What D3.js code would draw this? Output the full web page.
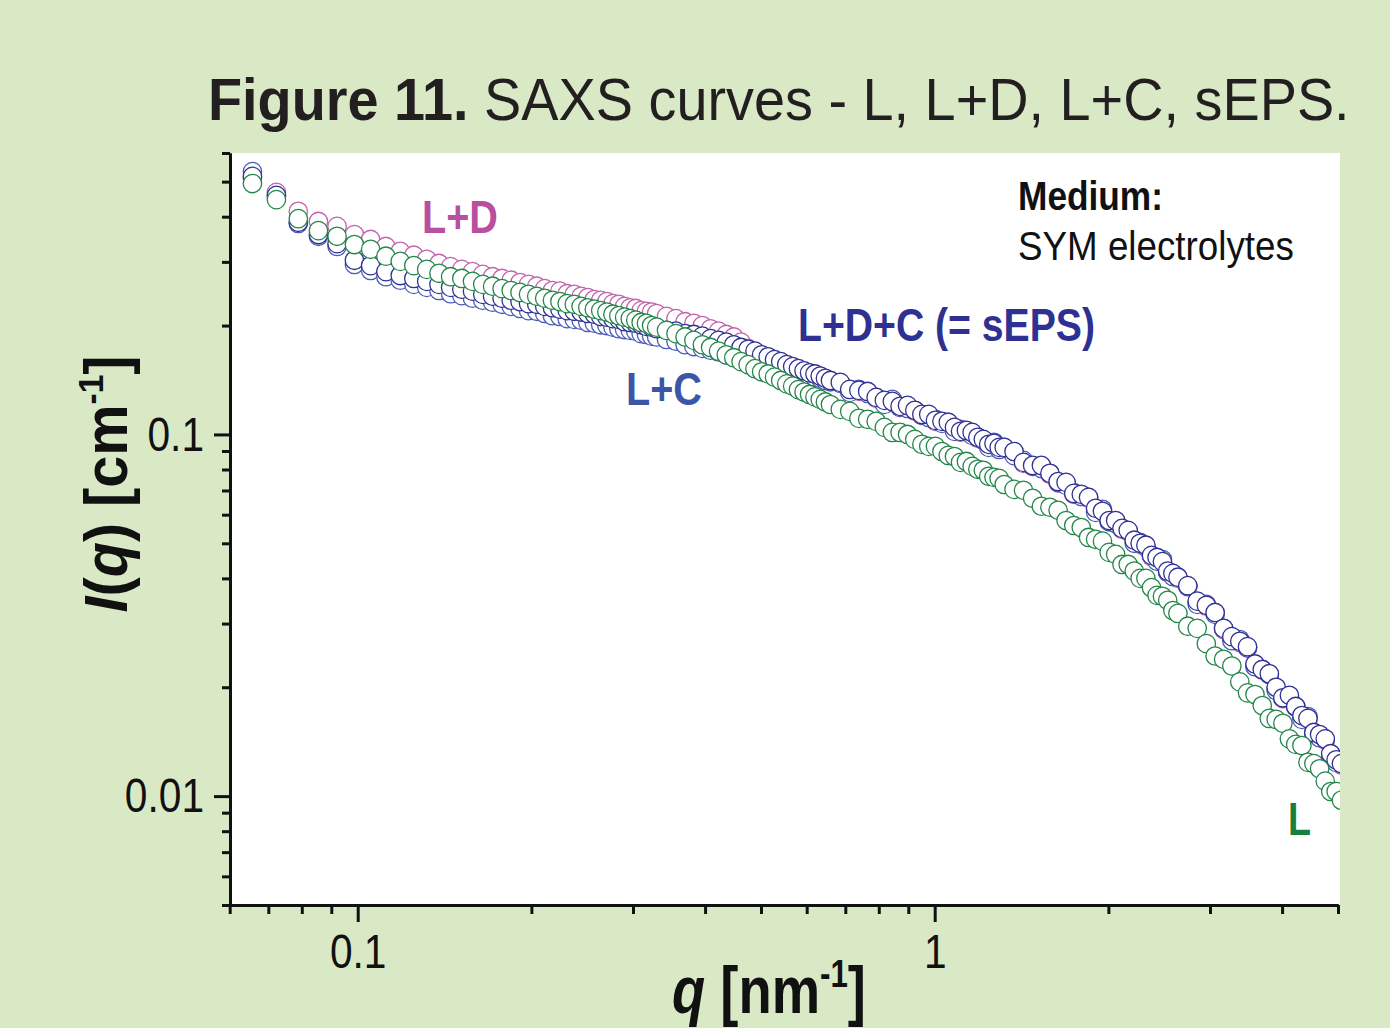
<!DOCTYPE html>
<html>
<head>
<meta charset="utf-8">
<script src="https://cdn.jsdelivr.net/npm/d3@7"></script>
<style>
  html, body { margin: 0; padding: 0; background: #d9e9c6; }
  svg { display: block; }
  text { font-family: "Liberation Sans", Arial, Helvetica, sans-serif; }
</style>
</head>
<body>
<svg id="chart" width="1390" height="1028"></svg>
<script>
//********************************************************************//
//                    DATA
//*******************************************************************//

// scattering vector q [nm^-1], shared by all four curves
var qValues = [0.0657,0.0723,0.0789,0.0855,0.0921,0.0987,0.1053,0.1119,0.1185,0.1251,
               0.1317,0.1383,0.1449,0.1515,0.1581,0.1647,0.1713,0.1779,0.1845,0.1911,
               0.1977,0.2043,0.2109,0.2175,0.2241,0.2307,0.2373,0.2439,0.2505,0.2571,
               0.2637,0.2703,0.2769,0.2835,0.2901,0.2967,0.3033,0.3099,0.3165,0.3231,
               0.3297,
               0.3429,0.3561,0.3693,0.3825,0.3957,0.4089,0.4221,0.4353,0.4485,0.4617,
               0.4749,0.4881,0.5013,0.5145,0.5277,0.5409,0.5541,0.5673,0.5805,0.5937,
               0.6069,0.6201,0.6333,0.6465,0.6597,
               0.6861,0.7125,0.7389,0.7653,0.7917,0.8181,0.8445,0.8709,0.8973,0.9237,
               0.9501,0.9765,1.0029,1.0293,1.0557,1.0821,1.1085,1.1349,1.1613,1.1877,
               1.2141,1.2405,1.2669,1.2933,1.3197,
               1.3725,1.4253,1.4781,1.5309,1.5837,1.6365,1.6893,1.7421,1.7949,1.8477,
               1.9005,1.9533,2.0061,2.0589,2.1117,2.1645,2.2173,2.2701,2.3229,2.3757,
               2.4285,2.4813,2.5341,2.5869,2.6397,
               2.7453,2.8509,2.9565,3.0621,3.1677,3.2733,3.3789,3.4845,3.5901,3.6957,
               3.8013,3.9069,4.0125,4.1181,4.2237,4.3293,4.4349,4.5405,4.6461,4.7517,
               4.8573,4.9629,5.0685];

// I(q) [cm^-1] : L
var iL = [0.494,0.446,0.395,0.366,0.353,0.335,0.325,0.311,0.301,0.293,
          0.286,0.279,0.273,0.270,0.265,0.260,0.257,0.253,0.250,0.247,
          0.244,0.241,0.238,0.235,0.233,0.230,0.229,0.226,0.224,0.222,
          0.220,0.218,0.215,0.213,0.211,0.209,0.207,0.204,0.203,0.200,
          0.198,
          0.194,0.190,0.186,0.182,0.177,0.174,0.170,0.166,0.163,0.159,
          0.156,0.152,0.149,0.147,0.144,0.141,0.138,0.136,0.133,0.131,
          0.129,0.127,0.125,0.123,0.121,
          0.1173,0.1158,0.1108,0.1101,0.1087,0.1046,0.1013,0.1013,0.1000,0.0969,
          0.0939,0.0927,0.0927,0.0897,0.0875,0.0869,0.0837,0.0842,0.0816,0.0801,
          0.0796,0.0766,0.0761,0.0756,0.0727,
          0.0705,0.0701,0.0666,0.0633,0.0629,0.0617,0.0578,0.0560,0.0553,0.0519,
          0.0513,0.0507,0.0472,0.0466,0.0437,0.0437,0.0419,0.0400,0.0400,0.0377,
          0.0359,0.0357,0.0348,0.0326,0.0320,
          0.0295,0.0291,0.0264,0.0244,0.0239,0.0229,0.0207,0.0193,0.0191,0.0178,
          0.0164,0.0163,0.0159,0.0144,0.0139,0.0138,0.0124,0.0123,0.0119,0.0110,
          0.0103,0.0103,0.00974];

// I(q) : L+D
var iLD = [0.510,0.467,0.414,0.388,0.376,0.357,0.346,0.331,0.321,0.313,
           0.305,0.297,0.291,0.286,0.282,0.277,0.273,0.270,0.267,0.263,
           0.260,0.257,0.253,0.250,0.249,0.245,0.244,0.241,0.239,0.236,
           0.235,0.233,0.230,0.229,0.226,0.224,0.223,0.220,0.219,0.218,
           0.216,
           0.212,0.209,0.205,0.203,0.200,0.196,0.193,0.189,0.186,0.180,
           0.173,0.169,0.165,0.163,0.160,0.158,0.155,0.153,0.151,0.149,
           0.1475,0.146,0.144,0.142,0.140,
           0.1384,0.1324,0.1316,0.1307,0.1258,0.1234,0.1226,0.1188,0.1195,0.1159,
           0.1129,0.1129,0.1087,0.1080,0.1073,0.1039,0.1014,0.1019,0.1007,0.0976,
           0.0963,0.0933,0.0939,0.0915,0.0915,
           0.0891,0.0832,0.0816,0.0816,0.0776,0.0736,0.0732,0.0683,0.0679,0.0666,
           0.0621,0.0609,0.0574,0.0574,0.0547,0.0540,0.0507,0.0497,0.0491,0.0460,
           0.0454,0.0442,0.0416,0.0410,0.0400,
           0.0380,0.0344,0.0335,0.0320,0.0289,0.0274,0.0266,0.0257,0.0231,0.0223,
           0.0217,0.0199,0.0186,0.0189,0.0176,0.0166,0.0163,0.0149,0.0147,0.0143,
           0.0130,0.0125,0.0122];

// I(q) : L+C
var iLC = [0.533,0.455,0.383,0.353,0.331,0.295,0.284,0.273,0.267,0.260,
           0.255,0.250,0.245,0.242,0.238,0.235,0.232,0.229,0.226,0.223,
           0.220,0.219,0.216,0.213,0.212,0.209,0.208,0.207,0.204,0.203,
           0.201,0.200,0.198,0.196,0.195,0.194,0.193,0.190,0.189,0.187,
           0.186,
           0.183,0.181,0.177,0.175,0.173,0.171,0.169,0.166,0.164,0.162,
           0.160,0.158,0.156,0.154,0.153,0.151,0.149,0.148,0.147,0.146,
           0.145,0.144,0.143,0.141,0.140,
           0.1384,0.1307,0.1332,0.1298,0.1266,0.1211,0.1250,0.1188,0.1180,0.1166,
           0.1129,0.1114,0.1101,0.1073,0.1080,0.1020,0.1033,0.1019,0.0994,0.0982,
           0.0963,0.0921,0.0951,0.0909,0.0921,
           0.0874,0.0848,0.0816,0.0805,0.0781,0.0736,0.0723,0.0691,0.0674,0.0670,
           0.0609,0.0621,0.0574,0.0567,0.0550,0.0540,0.0500,0.0503,0.0488,0.0463,
           0.0446,0.0451,0.0416,0.0405,0.0403,
           0.0380,0.0339,0.0339,0.0318,0.0291,0.0269,0.0271,0.0257,0.0228,0.0224,
           0.0217,0.0196,0.0188,0.0188,0.0177,0.0163,0.0166,0.0149,0.0145,0.0144,
           0.0130,0.0124,0.0124];

// I(q) : L+D+C (= sEPS)
var iLDC = [0.517,0.458,0.386,0.357,0.337,0.303,0.293,0.282,0.275,0.270,
            0.265,0.260,0.255,0.252,0.249,0.244,0.241,0.238,0.235,0.233,
            0.230,0.229,0.226,0.224,0.222,0.220,0.219,0.218,0.216,0.215,
            0.212,0.211,0.209,0.208,0.205,0.204,0.203,0.201,0.199,0.198,
            0.196,
            0.194,0.193,0.190,0.189,0.187,0.184,0.182,0.180,0.177,0.174,
            0.172,0.170,0.166,0.164,0.161,0.159,0.156,0.154,0.152,0.150,
            0.148,0.147,0.145,0.143,0.141,
            0.1393,0.1332,0.1324,0.1315,0.1266,0.1242,0.1234,0.1196,0.1203,0.1166,
            0.1136,0.1136,0.1094,0.1087,0.1080,0.1046,0.1020,0.1026,0.1013,0.0982,
            0.0969,0.0939,0.0945,0.0921,0.0921,
            0.0897,0.0837,0.0821,0.0821,0.0781,0.0741,0.0737,0.0687,0.0683,0.0670,
            0.0625,0.0613,0.0578,0.0578,0.0550,0.0543,0.0510,0.0500,0.0494,0.0463,
            0.0457,0.0445,0.0419,0.0413,0.0403,
            0.0382,0.0346,0.0337,0.0322,0.0291,0.0276,0.0268,0.0259,0.0232,0.0224,
            0.0218,0.0200,0.0187,0.0190,0.0177,0.0167,0.0164,0.0150,0.0148,0.0144,
            0.0131,0.0126,0.0123];

// axis ticks
var xMajorTicks = [0.1, 1];
var xMajorLabels = ["0.1", "1"];
var xMinorTicks = [0.06, 0.07, 0.08, 0.09, 0.2, 0.3, 0.4, 0.5, 0.6, 0.7, 0.8, 0.9, 2, 3, 4, 5];
var yMajorTicks = [0.01, 0.1];
var yMajorLabels = ["0.01", "0.1"];
var yMinorTicks = [0.005, 0.006, 0.007, 0.008, 0.009, 0.02, 0.03, 0.04, 0.05, 0.06, 0.07, 0.08, 0.09,
                   0.2, 0.3, 0.4, 0.5, 0.6];

//********************************************************************//
//                    DRAWING
//*******************************************************************//

var svg = d3.select("#chart");

var plot = {left: 230, right: 1340, top: 153, bottom: 905};

var x = d3.scaleLog().domain([0.06, 5]).range([229.7, 1338]);
var y = d3.scaleLog().domain([0.005, 0.6]).range([905, 153]);

// squeeze a text horizontally so that it spans `width` px (the original uses a condensed face)
function fitText(t, px, py, width, rotate) {
  var w = t.node().getComputedTextLength();
  t.attr("transform", "translate(" + px + "," + py + ")" + (rotate ? " rotate(-90)" : "") +
         " scale(" + (width / w) + ",1)");
}

// white plot area
svg.append("rect")
   .attr("x", plot.left)
   .attr("y", plot.top)
   .attr("width", plot.right - plot.left)
   .attr("height", plot.bottom - plot.top)
   .attr("fill", "#ffffff");

svg.append("clipPath").attr("id", "plotClip")
   .append("rect")
   .attr("x", plot.left)
   .attr("y", plot.top)
   .attr("width", plot.right - plot.left)
   .attr("height", plot.bottom - plot.top);

// curves, drawn back to front
var series = [{label: "L+D",   values: iLD,  color: "#c462ad"},
              {label: "L+C",   values: iLC,  color: "#4a5cb6"},
              {label: "L+D+C", values: iLDC, color: "#2e3192"},
              {label: "L",     values: iL,   color: "#238649"}];

var marks = svg.append("g").attr("clip-path", "url(#plotClip)");

series.forEach(function(s) {
  marks.append("g")
    .selectAll("circle")
    .data(qValues.map(function(q, i) { return {q: q, v: s.values[i]}; }))
    .join("circle")
      .attr("cx", function(d) { return x(d.q); })
      .attr("cy", function(d) { return y(d.v); })
      .attr("r", 9.2)
      .attr("fill", "#ffffff")
      .attr("stroke", s.color)
      .attr("stroke-width", 1.3);
});

// axes
var axisColor = "#111111";

var gx = svg.append("g").attr("transform", "translate(0," + plot.bottom + ")");
gx.append("g")
  .call(d3.axisBottom(x).tickValues(xMinorTicks).tickSize(9).tickSizeOuter(0).tickFormat(""));
gx.append("g")
  .call(d3.axisBottom(x).tickValues(xMajorTicks).tickSize(17).tickSizeOuter(0).tickPadding(11)
          .tickFormat(function(d, i) { return xMajorLabels[i]; }));

var gy = svg.append("g").attr("transform", "translate(" + plot.left + ",0)");
gy.append("g")
  .call(d3.axisLeft(y).tickValues(yMinorTicks).tickSize(8).tickSizeOuter(0).tickFormat(""));
gy.append("g")
  .call(d3.axisLeft(y).tickValues(yMajorTicks).tickSize(16).tickSizeOuter(0).tickPadding(10)
          .tickFormat(function(d, i) { return yMajorLabels[i]; }));

svg.selectAll(".domain").attr("stroke", axisColor).attr("stroke-width", 3);
svg.selectAll(".tick line").attr("stroke", axisColor).attr("stroke-width", 3);
svg.selectAll(".tick text")
   .attr("fill", axisColor)
   .style("font-size", "49px")
   .style("font-family", "'Liberation Sans', Arial, sans-serif")
   .each(function() {
     var w = this.getComputedTextLength();
     d3.select(this).attr("textLength", w * 0.83).attr("lengthAdjust", "spacingAndGlyphs");
   });

// title
var title = svg.append("text")
   .attr("fill", "#231f20")
   .style("font-size", "59px");
title.append("tspan").style("font-weight", "bold").text("Figure 11.");
title.append("tspan").text(" SAXS curves - L, L+D, L+C, sEPS.");
fitText(title, 208, 120, 1142, false);

// axis titles
var yTitle = svg.append("text")
   .attr("fill", axisColor)
   .attr("text-anchor", "middle")
   .style("font-size", "62px")
   .style("font-weight", "bold");
yTitle.append("tspan").style("font-style", "italic").text("I");
yTitle.append("tspan").text("(");
yTitle.append("tspan").style("font-style", "italic").text("q");
yTitle.append("tspan").text(") [cm");
yTitle.append("tspan").attr("dy", -24).style("font-size", "36px").text("-1");
yTitle.append("tspan").attr("dy", 24).text("]");
fitText(yTitle, 127, 484, 257, true);

var xTitle = svg.append("text")
   .attr("fill", axisColor)
   .attr("text-anchor", "middle")
   .style("font-size", "66px")
   .style("font-weight", "bold");
xTitle.append("tspan").style("font-style", "italic").text("q");
xTitle.append("tspan").text(" [nm");
xTitle.append("tspan").attr("dy", -26).style("font-size", "38px").text("-1");
xTitle.append("tspan").attr("dy", 26).text("]");
fitText(xTitle, 769, 1013, 194, false);

// curve labels
var curveLabels = [{text: "L+D",            color: "#b9509f", x: 422,  y: 233, w: 76},
                   {text: "L+C",            color: "#3b55a7", x: 626,  y: 405, w: 76},
                   {text: "L+D+C (= sEPS)", color: "#2e3192", x: 798,  y: 341, w: 297},
                   {text: "L",              color: "#17803f", x: 1288, y: 835, w: 23}];

curveLabels.forEach(function(c) {
  var t = svg.append("text")
     .attr("fill", c.color)
     .style("font-size", "46px")
     .style("font-weight", "bold")
     .text(c.text);
  fitText(t, c.x, c.y, c.w, false);
});

// medium note
var note1 = svg.append("text").attr("fill", "#111111")
   .style("font-size", "40px").style("font-weight", "bold").text("Medium:");
fitText(note1, 1018, 210, 145, false);
var note2 = svg.append("text").attr("fill", "#111111")
   .style("font-size", "40px").text("SYM electrolytes");
fitText(note2, 1018, 260, 276, false);
</script>
</body>
</html>
